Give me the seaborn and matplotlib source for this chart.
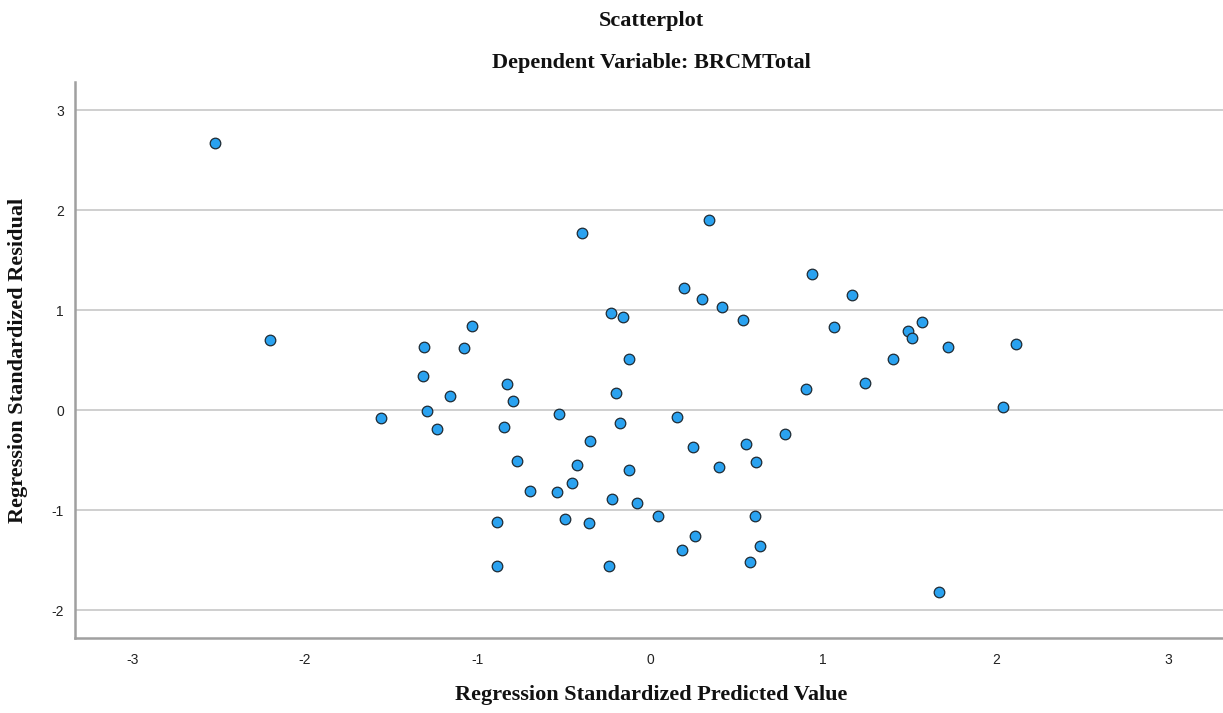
import matplotlib
matplotlib.use("Agg")
import matplotlib.pyplot as plt
import seaborn as sns
import pandas as pd

predicted = [-2.521, -2.203, -1.560, -0.229, -0.161, -1.035, -1.309, -1.078, -0.124, -1.319,
             -0.832, -0.198, -1.161, -0.796, -1.296, -0.528, -1.238, -0.848, -0.177, -0.350,
             -0.775, -0.427, -0.126, -0.698, -0.540, -0.454, -0.221, -0.076, 0.041, -0.889,
             -0.495, -0.358, -0.889, -0.238, 0.340, 0.935, 0.196, 0.296, 1.168, 0.412,
             0.534, 1.062, 1.402, 1.243, 0.900, 0.155, 0.244, 0.553, 0.779, 0.398,
             0.609, 0.607, 0.256, 0.181, 0.632, 0.574, 1.672, -0.397, 1.573, 1.492,
             1.512, 1.724, 2.116, 2.039]
residual = [2.667, 0.700, -0.083, 0.973, 0.933, 0.840, 0.627, 0.620, 0.513, 0.340,
            0.257, 0.173, 0.140, 0.090, -0.010, -0.043, -0.193, -0.167, -0.133, -0.310,
            -0.513, -0.547, -0.600, -0.807, -0.817, -0.727, -0.887, -0.930, -1.063, -1.117,
            -1.090, -1.133, -1.557, -1.557, 1.900, 1.360, 1.223, 1.107, 1.150, 1.027,
            0.900, 0.833, 0.507, 0.273, 0.210, -0.067, -0.370, -0.335, -0.243, -0.573,
            -0.517, -1.057, -1.257, -1.400, -1.363, -1.517, -1.823, 1.767, 0.880, 0.790,
            0.723, 0.630, 0.663, 0.030]

x_ticks = [-3, -2, -1, 0, 1, 2, 3]
y_ticks = [-2, -1, 0, 1, 2, 3]

title_main = "Scatterplot"
title_sub = "Dependent Variable: BRCMTotal"
x_label = "Regression Standardized Predicted Value"
y_label = "Regression Standardized Residual"

sns.set_style("white")
plt.rcParams['font.family'] = ['Liberation Sans', 'DejaVu Sans']

df = pd.DataFrame({"pred": predicted, "resid": residual})

fig = plt.figure(figsize=(12.23, 7.13), dpi=100)
ax = fig.add_axes([75 / 1223, 1 - 637.7 / 713, 1 - 75 / 1223, (637.7 - 82.3) / 713])

for yv in y_ticks:
    ax.axhline(yv, color="#cccccc", linewidth=1.3, zorder=1)

sns.scatterplot(data=df, x="pred", y="resid", ax=ax, s=58, color="#2aa2f0",
                edgecolor="#1e2a33", linewidth=0.9, zorder=3)

ax.set_xlim(-3.331, 3.314)
ax.set_ylim(-2.277, 3.277)
ax.set_xticks(x_ticks)
ax.set_yticks(y_ticks)
ax.set_xticklabels([str(v) for v in x_ticks])
ax.set_yticklabels([str(v) for v in y_ticks])
ax.tick_params(axis="both", length=0, labelsize=10, colors="#222222")
ax.tick_params(axis="x", pad=11)
ax.tick_params(axis="y", pad=8)

for side in ["top", "right"]:
    ax.spines[side].set_visible(False)
for side in ["left", "bottom"]:
    ax.spines[side].set_color("#a0a0a0")
    ax.spines[side].set_linewidth(1.8)

ax.set_xlabel("")
ax.set_ylabel("")

serif = ['Liberation Serif', 'DejaVu Serif']
fig.text(651.5 / 1223, 1 - 695 / 713, x_label, ha="center", va="center",
         fontsize=16, fontweight="bold", family=serif, color="#111111")
fig.text(18 / 1223, 1 - 360 / 713, y_label, ha="center", va="center", rotation=90,
         fontsize=16, fontweight="bold", family=serif, color="#111111")
fig.text(651.5 / 1223, 1 - 21 / 713, title_main, ha="center", va="center",
         fontsize=16, fontweight="bold", family=serif, color="#111111")
fig.text(651.5 / 1223, 1 - 63 / 713, title_sub, ha="center", va="center",
         fontsize=16, fontweight="bold", family=serif, color="#111111")

fig.savefig("out.png", dpi=100)
